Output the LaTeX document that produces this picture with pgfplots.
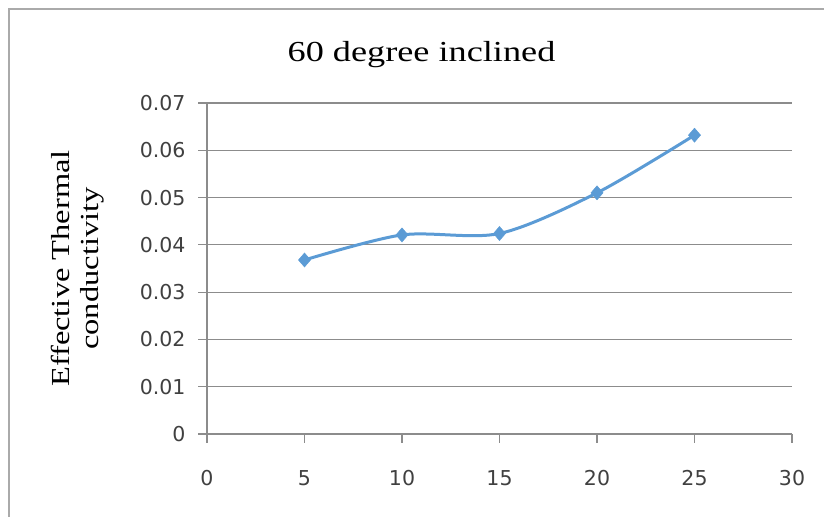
\documentclass[border=0pt]{standalone}
\usepackage{pgfplots}
\pgfplotsset{compat=1.18}
\usepackage{fontspec}
\setmainfont{Liberation Serif}
\newfontfamily\stretchserif[FakeStretch=1.25]{Liberation Serif}
\newfontfamily\ticksfont{DejaVu Sans}
\definecolor{lineblue}{RGB}{91,155,213}
\definecolor{gridgray}{RGB}{140,140,140}
\definecolor{framegray}{RGB}{170,170,170}
\begin{document}
\begin{tikzpicture}[x=1bp,y=1bp]
\useasboundingbox (0,0) rectangle (824,517);
\draw[framegray, line width=2bp] (9,-5) -- (9,508) -- (830,508);
\node[font=\stretchserif\fontsize{29bp}{32bp}\selectfont, anchor=base, inner sep=0pt] at (421.5,455) {60 degree inclined};
\begin{axis}[at={(207bp,83bp)}, anchor=south west, width=585bp, height=331bp, scale only axis,
  xmin=0, xmax=30, ymin=0, ymax=0.07,
  scaled y ticks=false, scaled x ticks=false,
  axis x line=bottom, axis y line=left,
  axis line style={gridgray, line width=1.2bp, -},
  xtick={0,5,10,15,20,25,30}, xticklabels={0,5,10,15,20,25,30},
  ytick={0,0.01,0.02,0.03,0.04,0.05,0.06,0.07},
  yticklabels={0,0.01,0.02,0.03,0.04,0.05,0.06,0.07},
  tick align=outside, major tick length=9bp,
  tick style={gridgray, line width=1.2bp},
  ymajorgrids, grid style={gridgray, line width=1.2bp},
  tick label style={font=\ticksfont\fontsize{20.5bp}{22bp}\selectfont, text=black!75},
  yticklabel style={xshift=-9bp},
  xticklabel style={yshift=-24bp},
  ylabel={Effective Thermal\\conductivity},
  ylabel style={align=center, font=\stretchserif\fontsize{26bp}{29bp}\selectfont,
    at={(axis description cs:-0.2205,0.5)}, anchor=center},
  clip=false,
]
\addplot[lineblue, line width=3bp, smooth, mark=diamond*, mark size=7bp,
  mark options={fill=lineblue, draw=lineblue, line width=0.5bp, xscale=1.15}]
  coordinates {(5,0.0368) (10,0.0421) (15,0.0424) (20,0.0510) (25,0.0632)};
\end{axis}
\end{tikzpicture}
\end{document}
